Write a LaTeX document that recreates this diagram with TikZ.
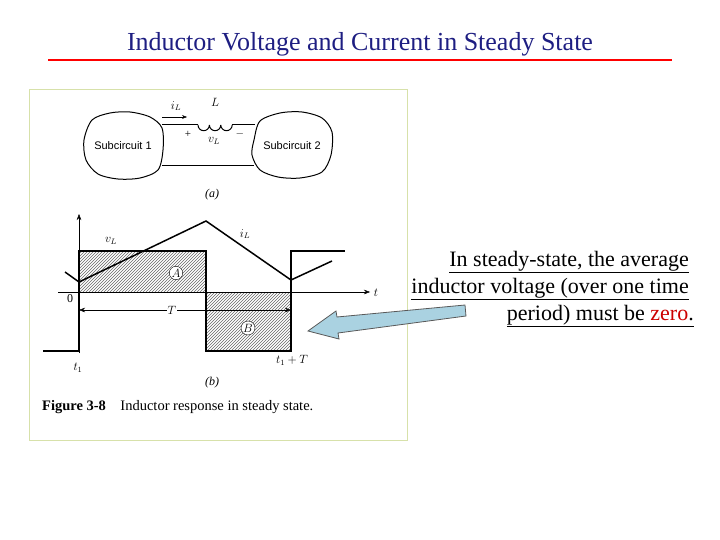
\documentclass[tikz,border=0pt]{standalone}
\usepackage{fontspec}
\setmainfont{Liberation Serif}
\setsansfont{Liberation Sans}
\usetikzlibrary{patterns,arrows.meta}
\begin{document}
\begin{tikzpicture}[x=1pt,y=-1pt,
  wave/.style={line width=1.5pt},
  lab/.style={font=\fontsize{12}{13}\selectfont\itshape},
  rtxt/.style={anchor=east,font=\fontsize{22}{26}\selectfont,inner sep=0pt}]
\useasboundingbox (0,0) rectangle (720,540);
\definecolor{titleblue}{RGB}{30,30,130}
\definecolor{frameg}{RGB}{215,225,170}
\definecolor{arrowblue}{RGB}{170,210,225}
\node[font=\fontsize{26}{30}\selectfont,text=titleblue] (title) at (360,44) {Inductor Voltage and Current in Steady State};
\draw[red,line width=2.5pt] (48,60) -- (672,60);
\draw[frameg,line width=1pt] (29,90) rectangle (407,440);
% blobs
\draw[line width=1pt] plot[smooth cycle] coordinates {(84,140) (92,120) (110,113) (130,112) (150,117) (162,128) (163,150) (158,170) (140,178) (118,179) (98,174) (86,160)};
\draw[line width=1pt] plot[smooth cycle] coordinates {(254,140) (260,121) (280,113) (302,112) (322,118) (332,132) (331,155) (322,172) (300,178) (278,177) (260,170) (252,155)};
\node[font=\sffamily\fontsize{11}{12}\selectfont] (s1) at (123,146) {Subcircuit 1};
\node[font=\sffamily\fontsize{11}{12}\selectfont] (s2) at (292,146) {Subcircuit 2};
\draw[line width=1pt] (162,125) -- (198,125);
\draw[line width=1pt] (198,125) foreach \i in {0,1,2} {arc[start angle=180,end angle=0,radius=5.7] ++(0,0)};
\draw[line width=1pt] (232,125) -- (255,125);
\draw[line width=1pt] (162,166) -- (254,166);
\draw[-{Stealth[length=5pt]}] (162,117) -- (187,117);
\node[lab] (il) at (176,106) {$i_L$};
\node[lab] (L) at (215,102) {$L$};
\node[font=\fontsize{11}{12}\selectfont] (p) at (188,134) {+};
\node[font=\fontsize{11}{12}\selectfont] (m) at (240,134) {$-$};
\node[lab] (vl) at (214,141) {$v_L$};
\node[lab] (a) at (212,195) {(a)};
% hatched areas
\fill[pattern=north east lines,pattern color=black!60] (79,251) rectangle (206,292);
\fill[pattern=north east lines,pattern color=black!60] (206,292) rectangle (291,351);
% axes
\draw[-{Stealth[length=6pt]}] (79,353) -- (79,214);
\draw[-{Stealth[length=6pt]}] (58,292) -- (370,292);
\node[lab] (t) at (376,293) {$t$};
\node[font=\fontsize{12}{13}\selectfont] (zero) at (70,299) {0};
% vL
\draw[wave] (43,351) -- (79,351) -- (79,251) -- (206,251) -- (206,351) -- (291,351) -- (291,251) -- (345,251);
% iL
\draw[wave] (65,272) -- (79,282) -- (206,221) -- (291,280) -- (332,261);
\node[lab] (vll) at (111,241) {$v_L$};
\node[lab] (ill) at (245,234) {$i_L$};
\node[draw,circle,fill=white,inner sep=0.5pt,lab] (A) at (176,273) {$A$};
\node[draw,circle,fill=white,inner sep=0.5pt,lab] (B) at (248,328) {$B$};
\node[lab,fill=white,inner sep=1pt] (T) at (172,310) {$T$};
\coordinate (Tl) at (79,310);
\coordinate (Tr) at (291,310);
\draw[-{Stealth[length=6pt]}] (T) -- (Tl);
\draw[-{Stealth[length=6pt]}] (T) -- (Tr);
\node[lab] (t1) at (78,368) {$t_1$};
\node[lab] (t1T) at (292,360) {$t_1+T$};
\node[lab] (b) at (212,383) {(b)};
\node[font=\fontsize{14.5}{16}\selectfont,anchor=west,inner sep=0pt] (cap) at (42,407) {\textbf{Figure 3-8}\quad Inductor response in steady state.};
% arrow
\coordinate (tip) at (308,331);
\draw[fill=arrowblue,line width=0.8pt,draw=gray!70!black] (465,305) -- (337,317) -- (336,311) -- (308,331) -- (339,339) -- (338,333) -- (466,316) -- cycle;
% text
\node[rtxt] (l1) at (689,262) {\underline{In steady-state, the average}};
\node[rtxt] (l2) at (689,289) {\underline{inductor voltage (over one time}};
\node[rtxt] (l3) at (694,316) {\underline{period) must be \textcolor{red!80!black}{zero}.}};
\end{tikzpicture}
\end{document}
